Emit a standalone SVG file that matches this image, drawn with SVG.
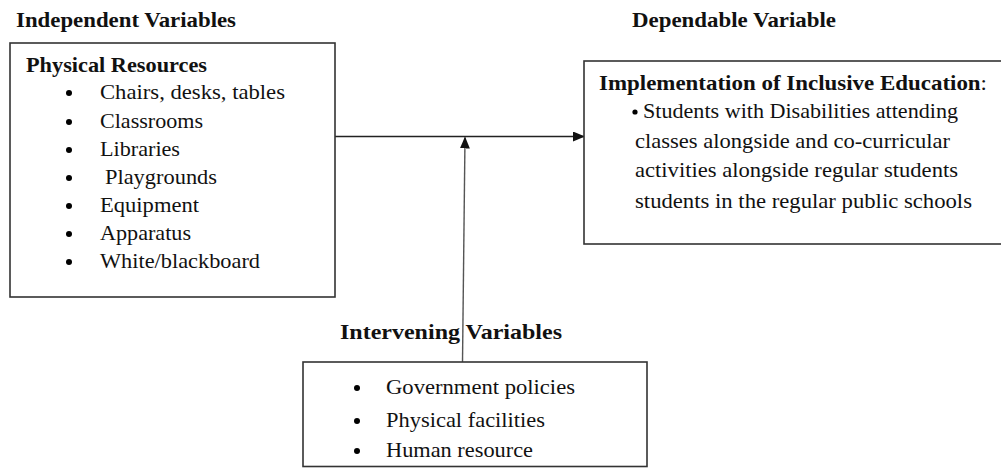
<svg xmlns="http://www.w3.org/2000/svg" width="1001" height="468" viewBox="0 0 1001 468">
<style>
text{font-family:"Liberation Serif","Times New Roman",serif;fill:#111;font-size:21px}
.b{font-weight:bold}
.box{fill:#fff;stroke:#333;stroke-width:1.6}
.ln{stroke:#222;stroke-width:1.4;fill:none}
</style>
<defs>
<marker id="ah" markerWidth="12" markerHeight="10" refX="11" refY="5" orient="auto" markerUnits="userSpaceOnUse">
<path d="M0,0 L12,5 L0,10 Z" fill="#111"/>
</marker>
</defs>
<text class="b" x="16" y="27" textLength="220" lengthAdjust="spacingAndGlyphs">Independent Variables</text>
<text class="b" x="632" y="27" textLength="204" lengthAdjust="spacingAndGlyphs">Dependable Variable</text>
<g id="connectors">
<line class="ln" x1="335" y1="136.5" x2="584" y2="136.5" marker-end="url(#ah)"/>
<line class="ln" x1="462.5" y1="362" x2="465" y2="137.5" marker-end="url(#ah)" style="stroke:#555"/>
</g>
<g id="physical">
<rect class="box" x="10" y="43" width="325" height="254"/>
<text class="b" x="26" y="72" textLength="181" lengthAdjust="spacingAndGlyphs">Physical Resources</text>
<g>
<circle cx="69" cy="93" r="3"/><text x="100" y="99" textLength="185" lengthAdjust="spacingAndGlyphs">Chairs, desks, tables</text>
<circle cx="69" cy="122" r="3"/><text x="100" y="128" textLength="103" lengthAdjust="spacingAndGlyphs">Classrooms</text>
<circle cx="69" cy="150" r="3"/><text x="100" y="156" textLength="80" lengthAdjust="spacingAndGlyphs">Libraries</text>
<circle cx="69" cy="178" r="3"/><text x="105" y="184" textLength="112" lengthAdjust="spacingAndGlyphs">Playgrounds</text>
<circle cx="69" cy="206" r="3"/><text x="100" y="212" textLength="99" lengthAdjust="spacingAndGlyphs">Equipment</text>
<circle cx="69" cy="234" r="3"/><text x="100" y="240" textLength="91" lengthAdjust="spacingAndGlyphs">Apparatus</text>
<circle cx="69" cy="262" r="3"/><text x="100" y="268" textLength="160" lengthAdjust="spacingAndGlyphs">White/blackboard</text>
</g>
</g>
<g id="implementation">
<rect class="box" x="584" y="61" width="430" height="183"/>
<text x="599" y="90" textLength="388" lengthAdjust="spacingAndGlyphs"><tspan class="b">Implementation of Inclusive Education</tspan>:</text>
<circle cx="635" cy="112" r="2.6"/>
<text x="643" y="118" textLength="315" lengthAdjust="spacingAndGlyphs">Students with Disabilities attending</text>
<text x="635" y="148" textLength="315" lengthAdjust="spacingAndGlyphs">classes alongside and co-curricular</text>
<text x="635" y="177" textLength="323" lengthAdjust="spacingAndGlyphs">activities alongside regular students</text>
<text x="635" y="208" textLength="337" lengthAdjust="spacingAndGlyphs">students in the regular public schools</text>
</g>
<g id="intervening">
<text class="b" x="340" y="339" textLength="222" lengthAdjust="spacingAndGlyphs">Intervening Variables</text>
<rect class="box" x="303" y="362" width="344" height="104.5"/>
<circle cx="357" cy="388" r="3"/><text x="386" y="394" textLength="189" lengthAdjust="spacingAndGlyphs">Government policies</text>
<circle cx="357" cy="421" r="3"/><text x="386" y="427" textLength="159" lengthAdjust="spacingAndGlyphs">Physical facilities</text>
<circle cx="357" cy="451" r="3"/><text x="386" y="457" textLength="147" lengthAdjust="spacingAndGlyphs">Human resource</text>
</g>
</svg>
